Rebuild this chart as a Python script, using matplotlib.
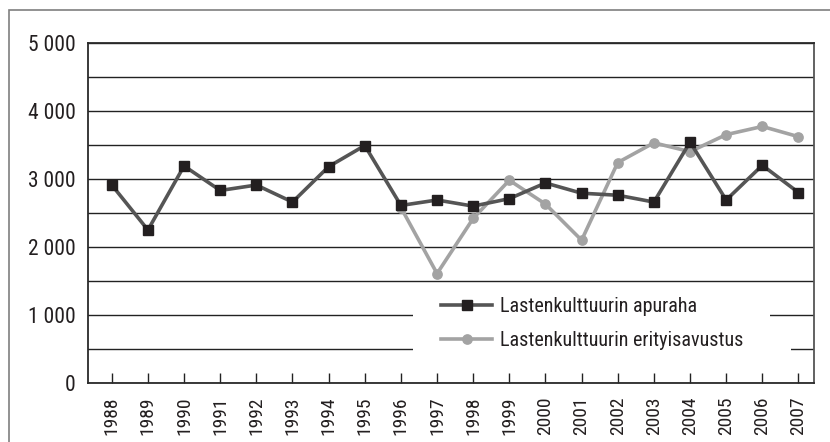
import matplotlib
matplotlib.use("Agg")
import matplotlib.pyplot as plt
from matplotlib.patches import Rectangle
from matplotlib.ticker import FuncFormatter, MultipleLocator

plt.rcParams['font.family'] = ['Roboto Condensed', 'Liberation Sans', 'DejaVu Sans']

years = [str(y) for y in range(1988, 2008)]
apuraha = [2910, 2250, 3190, 2830, 2910, 2660, 3180, 3490, 2610, 2690,
           2600, 2710, 2940, 2790, 2760, 2660, 3540, 2690, 3200, 2800]
eritys_years = [str(y) for y in range(1996, 2008)]
erityisavustus = [2580, 1610, 2420, 2980, 2630, 2100, 3240, 3530, 3400, 3650, 3770, 3620]
labels = ["Lastenkulttuurin apuraha", "Lastenkulttuurin erityisavustus"]

fig = plt.figure(figsize=(8.3, 4.42), dpi=100)
ax = fig.add_axes([88.3/830, 1-383.2/442, (814-88.3)/830, (383.2-42.7)/442])

xa = list(range(len(years)))
xe = [years.index(y) for y in eritys_years]

ax.plot(xa, apuraha, color='#555555', lw=2.6, marker='s', ms=7.7,
        mfc='#231f20', mec='#231f20', label=labels[0], zorder=5, clip_on=False)
ax.plot(xe, erityisavustus, color='#a3a3a3', lw=2.6, marker='o', ms=6.7,
        mfc='#a3a3a3', mec='#a3a3a3', label=labels[1], zorder=4, clip_on=False)

ax.set_xlim(-0.65, 19.43)
ax.set_ylim(0, 5000)
ax.yaxis.set_major_locator(MultipleLocator(1000))
ax.yaxis.set_minor_locator(MultipleLocator(500))
ax.yaxis.set_major_formatter(FuncFormatter(lambda v, p: f"{int(v):,}".replace(",", " ")))
ax.set_xticks(xa)
ax.set_xticklabels(years, rotation=90, fontsize=14, color='#231f20')
ax.tick_params(axis='x', direction='in', length=7.5, width=1, color='#222222', pad=9.5)
ax.tick_params(axis='y', which='both', length=0, pad=9, labelsize=15.5, labelcolor='#231f20')
ax.grid(axis='y', which='both', color='#222222', lw=1.0, zorder=1)
ax.set_axisbelow(True)
for s in ['left', 'bottom', 'top']:
    ax.spines[s].set_color('#2a2a2a')
    ax.spines[s].set_linewidth(1.3)
ax.spines['right'].set_color('#555555')
ax.spines['right'].set_linewidth(1.3)

# white backgrounds behind legend rows
ax.add_patch(Rectangle((0.4474, 0.156), 0.9393-0.4474, 0.10, transform=ax.transAxes,
                       facecolor='white', edgecolor='none', zorder=2))
ax.add_patch(Rectangle((0.4474, 0.05), 0.9683-0.4474, 0.106, transform=ax.transAxes,
                       facecolor='white', edgecolor='none', zorder=2))

leg = ax.legend(loc='upper left', bbox_to_anchor=(0.486, 0.252), frameon=False,
                prop={'size': 14.5},
                handlelength=2.55, handletextpad=0.4,
                borderpad=0, borderaxespad=0, labelspacing=0.72)
for t in leg.get_texts():
    t.set_color('#231f20')

fig.add_artist(Rectangle((9/830, -0.1), 1.2, 1 - 10/442 + 0.1, transform=fig.transFigure,
                         facecolor='none', edgecolor='#7f7f7f', lw=1.2))

fig.savefig('out.png', dpi=100)
